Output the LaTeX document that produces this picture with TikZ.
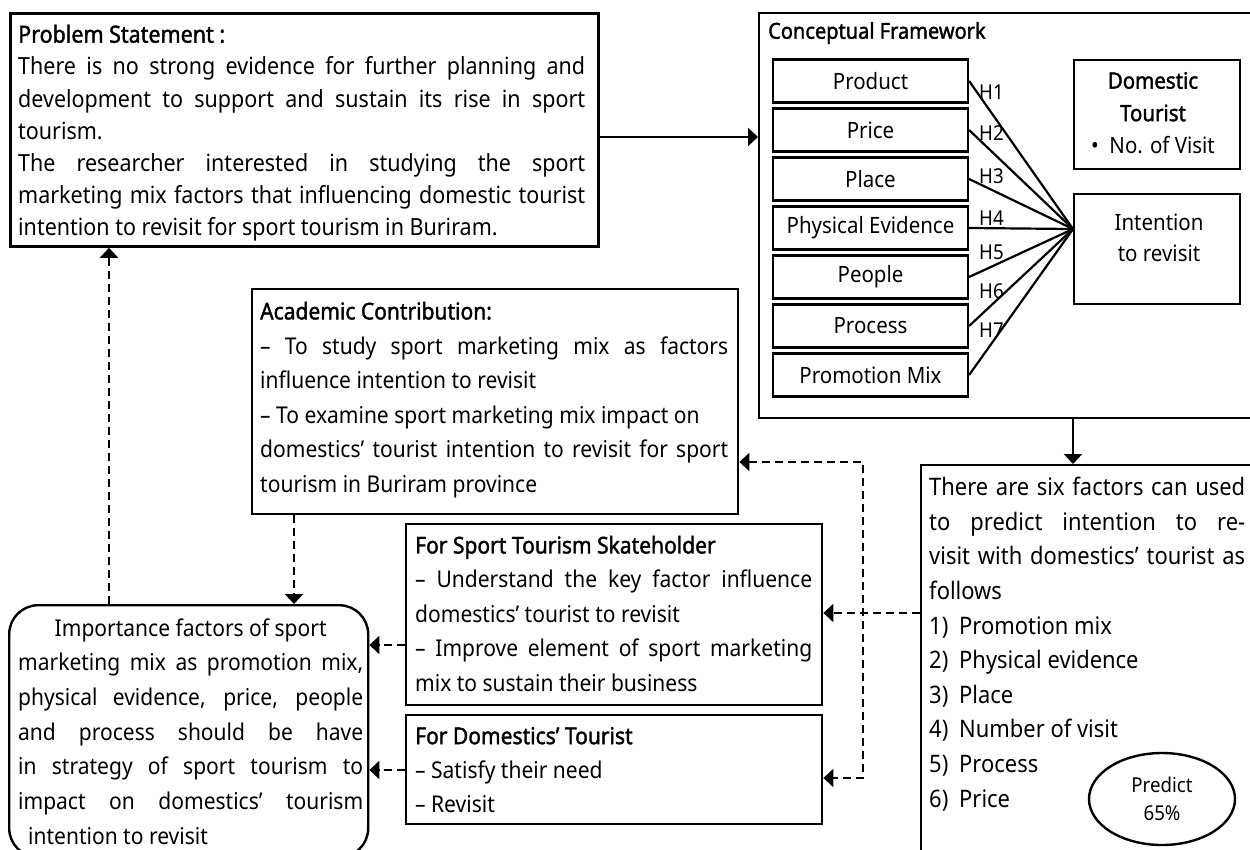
\documentclass[tikz,border=0pt]{standalone}
\usepackage{fontspec}
\setmainfont{Noto Sans}[FakeStretch=0.91]
\newfontfamily\sbfont{Noto Sans}[FakeStretch=0.91,FakeBold=1.6]
\usetikzlibrary{arrows.meta,shapes.geometric}
\newcommand\JL[1]{\makebox[\hsize][s]{\spaceskip=0pt\xspaceskip=0pt\strut#1}\par}
\newcommand\RL[1]{\makebox[\hsize][l]{\spaceskip=0pt\xspaceskip=0pt\strut#1}\par}
\newcommand\CL[1]{\makebox[\hsize][c]{\spaceskip=0pt\xspaceskip=0pt\strut#1}\par}
\newcommand\NUM[1]{\makebox[30pt][l]{#1}}
\newcommand\fs[2]{\fontsize{#1}{#2}\selectfont}
\tikzset{
  box/.style={draw, line width=2.4pt, inner sep=0pt, anchor=north west},
  fbox/.style={draw, line width=2.2pt, inner sep=0pt, minimum width=195pt, minimum height=43pt, font=\fs{22.5}{26}},
  txt/.style={inner sep=0pt, anchor=north west, align=justify, execute at begin node={\parindent=0pt}},
  hlab/.style={inner sep=0pt, anchor=west, font=\fs{20.5}{24}},
  conn/.style={line width=2.2pt},
  arr/.style={line width=2.4pt, -{Triangle[length=10pt,width=18pt]}},
  darr/.style={line width=2.4pt, dash pattern=on 8pt off 5pt, -{Triangle[length=10pt,width=18pt]}},
  dline/.style={line width=2.4pt, dash pattern=on 8pt off 5pt}
}
\begin{document}
\begin{tikzpicture}[x=1pt,y=-1pt]
\useasboundingbox (0,0) rectangle (1250,849);
\fill[white] (0,0) rectangle (1250,849);

% helper coordinates
\coordinate (hA) at (0,137);
\coordinate (conv) at (1073,229);
\coordinate (cA) at (863,462);
\coordinate (cB) at (863,778);
\coordinate (hS) at (0,613);
\coordinate (hI1) at (0,645);
\coordinate (hI2) at (0,770);
\coordinate (vL) at (109,0);
\coordinate (vR) at (294,0);
\coordinate (vC) at (1073,0);

% Problem statement
\node[box, line width=2.8pt, minimum width=588pt, minimum height=233pt] (ps) at (9,12) {};
\node[txt, text width=567pt, font=\fs{23.6}{32.2}] (pst) at (18,19.9) {%
\RL{\sbfont Problem Statement :}%
\JL{There is no strong evidence for further planning and}%
\JL{development to support and sustain its rise in sport}%
\RL{tourism.}%
\JL{The researcher interested in studying the sport}%
\JL{marketing mix factors that influencing domestic tourist}%
\RL{intention to revisit for sport tourism in Buriram.}};

% Conceptual framework
\node[box, minimum width=504pt, minimum height=405pt] (cf) at (758,12) {};
\node[inner sep=0pt, anchor=west, font=\fs{22}{26}\sbfont] (cft) at (768,33) {Conceptual Framework};

\node[fbox] (f1) at (870.5,81) {Product};
\node[fbox] (f2) at (870.5,130) {Price};
\node[fbox] (f3) at (870.5,179) {Place};
\node[fbox] (f4) at (870.5,228) {Physical Evidence};
\node[fbox] (f5) at (870.5,277) {People};
\node[fbox] (f6) at (870.5,326) {Process};
\node[fbox] (f7) at (870.5,375) {Promotion Mix};

\node[box, minimum width=166pt, minimum height=109pt] (dt) at (1073,59) {};
\node[inner sep=0pt, align=center, font=\fs{22.5}{32.5}] (dtt) at (1153,113) {{\sbfont Domestic}\\{\sbfont Tourist}\\•\ \ No. of Visit};

\node[box, minimum width=166pt, minimum height=110pt] (int) at (1073,193) {};
\node[inner sep=0pt, align=center, font=\fs{22.5}{31}] (intt) at (1159,237.5) {Intention\\to revisit};

\foreach \i in {1,...,7} { \draw[conn] (f\i.east) -- (conv); }

\node[hlab] (h1) at (979,92) {H1};
\node[hlab] (h2) at (979,133) {H2};
\node[hlab] (h3) at (979,176) {H3};
\node[hlab] (h4) at (979,218) {H4};
\node[hlab] (h5) at (979,252) {H5};
\node[hlab] (h6) at (979,291) {H6};
\node[hlab] (h7) at (979,330) {H7};

% Six factors
\node[box, minimum width=342pt, minimum height=398pt] (six) at (920,464) {};
\node[txt, text width=316pt, font=\fs{24.1}{34.6}] (sxt) at (929,471.3) {%
\JL{There are six factors can used}%
\JL{to predict intention to re-}%
\JL{visit with domestics’ tourist as}%
\RL{follows}%
\RL{\NUM{1)}Promotion mix}%
\RL{\NUM{2)}Physical evidence}%
\RL{\NUM{3)}Place}%
\RL{\NUM{4)}Number of visit}%
\RL{\NUM{5)}Process}%
\RL{\NUM{6)}Price}};
\node[draw, ellipse, line width=2.4pt, minimum width=146pt, minimum height=92pt, inner sep=0pt, align=center, font=\fs{20.5}{28}] (pred) at (1162,799) {Predict\\65\%};

% Academic contribution
\node[box, minimum width=486pt, minimum height=225pt] (acad) at (251,288) {};
\node[txt, text width=468pt, font=\fs{23.1}{34.6}] (act) at (260,295) {%
\RL{\sbfont Academic Contribution:}%
\JL{– To study sport marketing mix as factors}%
\RL{influence intention to revisit}%
\RL{– To examine sport marketing mix impact on}%
\JL{domestics’ tourist intention to revisit for sport}%
\RL{tourism in Buriram province}};

% Sport tourism stakeholder
\node[box, minimum width=416pt, minimum height=181pt] (sport) at (405,523) {};
\node[txt, text width=397pt, font=\fs{23.1}{34.5}] (spt) at (415,529.1) {%
\RL{\sbfont For Sport Tourism Skateholder}%
\JL{– Understand the key factor influence}%
\RL{domestics’ tourist to revisit}%
\JL{– Improve element of sport marketing}%
\RL{mix to sustain their business}};

% Domestics' tourist
\node[box, minimum width=416pt, minimum height=109pt] (dom) at (405,714) {};
\node[txt, text width=397pt, font=\fs{23.1}{34}] (dmt) at (415,720.1) {%
\RL{\sbfont For Domestics’ Tourist}%
\RL{– Satisfy their need}%
\RL{– Revisit}};

% Importance
\node[box, rounded corners=29pt, minimum width=359pt, minimum height=252pt] (imp) at (8,604) {};
\node[txt, text width=345pt, font=\fs{23.1}{34.7}] (imt) at (18,611.6) {%
\CL{Importance factors of sport}%
\JL{marketing mix as promotion mix,}%
\JL{physical evidence, price, people}%
\JL{and process should be have}%
\JL{in strategy of sport tourism to}%
\JL{impact on domestics’ tourism}%
\RL{\hspace{10pt}intention to revisit}};

% connectors
\draw[arr] (ps.east |- hA) -- (cf.west |- hA);
\draw[arr] (cf.south -| vC) -- (six.north -| vC);
\draw[darr] (imp.north -| vL) -- (ps.south -| vL);
\draw[darr] (acad.south -| vR) -- (imp.north -| vR);
\draw[darr] (six.west |- hS) -- (sport.east |- hS);
\draw[darr] (sport.west |- hI1) -- (imp.east |- hI1);
\draw[darr] (dom.west |- hI2) -- (imp.east |- hI2);
\draw[dline, {Triangle[length=10pt,width=18pt]}-{Triangle[length=10pt,width=18pt]}] (acad.east |- cA) -- (cA) -- (cB) -- (dom.east |- cB);
\end{tikzpicture}
\end{document}
